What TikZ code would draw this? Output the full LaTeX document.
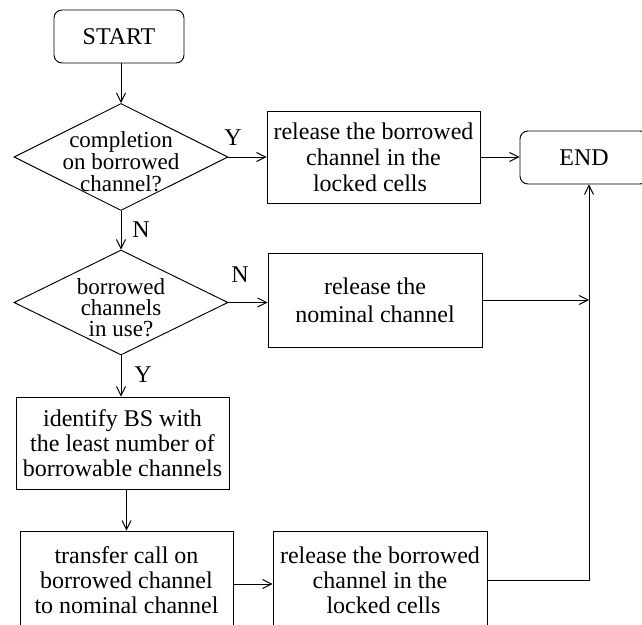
\documentclass[tikz,border=0pt]{standalone}
\usepackage{fontspec}
\setmainfont{Liberation Serif}
\usetikzlibrary{shapes.geometric,arrows.meta}
\begin{document}
\begin{tikzpicture}[x=1pt,y=1pt,
  lw/.style={line width=0.95pt},
  arr/.style={lw,-{Straight Barb[length=9pt,width=9pt,line width=0.95pt]}},
  box/.style={draw,lw,rectangle,inner sep=0pt,align=center,font=\fontsize{24}{25}\selectfont},
  term/.style={draw,lw,rectangle,rounded corners=8pt,inner sep=0pt,font=\fontsize{24}{25}\selectfont},
  dia/.style={draw,lw,diamond,inner sep=0pt},
  dtext/.style={align=center,inner sep=0pt},
  lab/.style={inner sep=0pt,font=\fontsize{24}{25}\selectfont}]
\useasboundingbox (0,0) rectangle (642,624);
% terminals
\node[term,minimum width=130,minimum height=53] (start) at (119,587.5) {START};
\node[term,minimum width=128,minimum height=53] (end) at (584,466.5) {END};
% decisions
\node[dia,minimum width=214,minimum height=107] (d1) at (121,467) {};
\node[dtext,font=\fontsize{23}{22}\selectfont] (d1t) at (121,462) {completion\\on borrowed\\channel?};
\node[dia,minimum width=214,minimum height=105] (d2) at (121,321.5) {};
\node[dtext,font=\fontsize{23}{21}\selectfont] (d2t) at (121,316) {borrowed\\channels\\in use?};
% process boxes
\node[box,minimum width=213,minimum height=92] (b1) at (373.5,467) {release the borrowed\\[1pt]channel in the\hspace*{17pt}\\[1pt]locked cells\hspace*{7pt}};
\node[box,minimum width=214,minimum height=94] (b2) at (375,324) {release the\\[3pt]nominal channel};
\node[box,minimum width=213,minimum height=92] (b3) at (122.5,181) {identify BS with\\the least number of\\borrowable channels};
\node[box,minimum width=213,minimum height=98] (b4) at (126.5,44) {transfer call on\\borrowed channel\\to nominal channel};
\node[box,minimum width=214,minimum height=98] (b5) at (380,44) {release the borrowed\\channel in the\hspace*{7pt}\\\hspace*{7pt}locked cells};
% labels
\node[lab] (y1) at (233,486) {Y};
\node[lab] (n1) at (141,394) {N};
\node[lab] (n2) at (240,349) {N};
\node[lab] (y2) at (143,249) {Y};
% rail
\coordinate (rail) at (589,45);
% connectors
\draw[arr] (start.south -| d1.north) -- (d1.north);
\draw[arr] (d1.east) -- (d1.east -| b1.west);
\draw[arr] (b1.east) -- (b1.east -| end.west);
\draw[arr] (d1.south) -- (d2.north);
\draw[arr] (d2.east) -- (d2.east -| b2.west);
\draw[arr] (d2.south) -- (d2.south |- b3.north);
\draw[arr] (b4.north |- b3.south) -- (b4.north);
\draw[arr] ([yshift=-4pt]b4.east) -- ([yshift=-4pt]b4.east -| b5.west);
\draw[arr] (b2.east) -- (rail |- b2.east);
\draw[arr] (b5.east) -- (rail |- b5.east) -- (rail |- end.south);
\end{tikzpicture}
\end{document}
